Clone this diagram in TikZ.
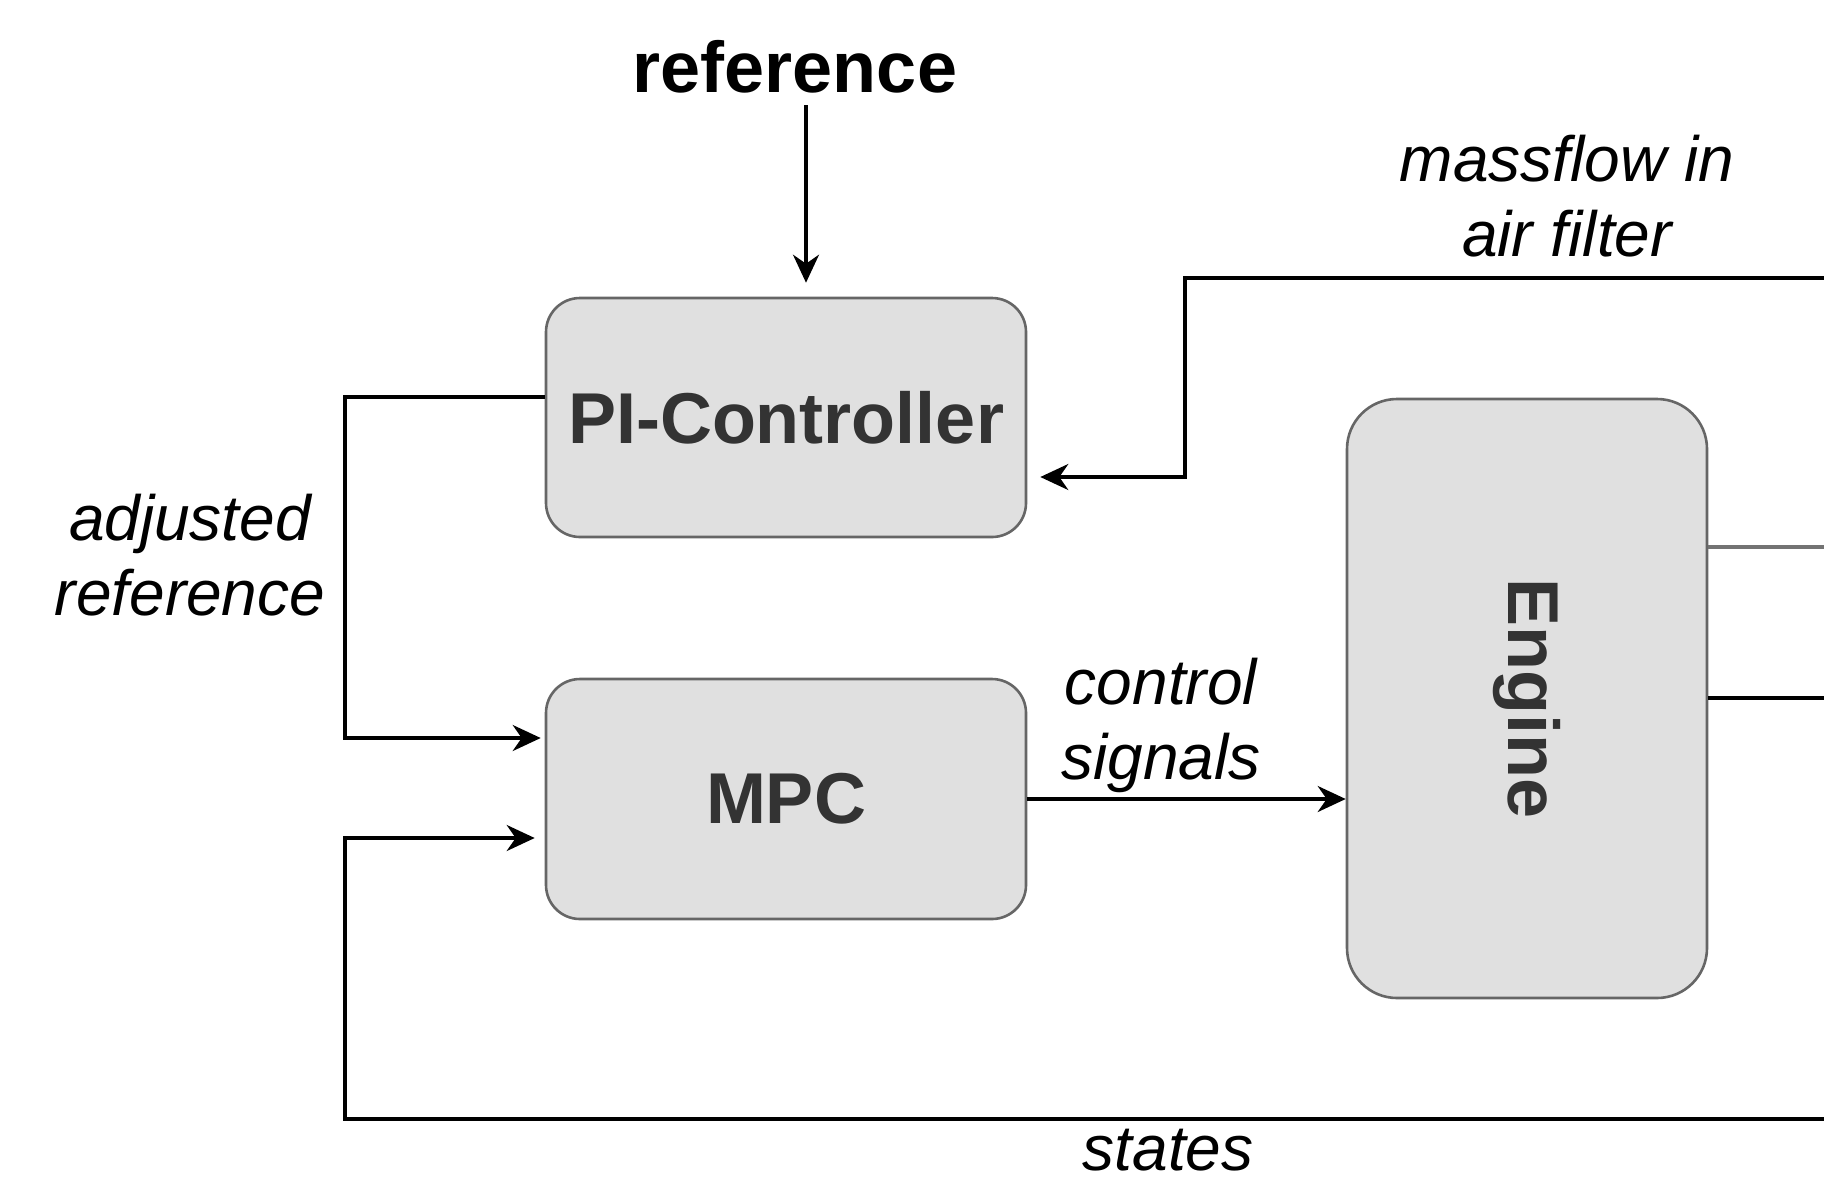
\documentclass[tikz,border=0pt]{standalone}
\usepackage{fontspec}
\setmainfont{Liberation Sans}
\usetikzlibrary{arrows.meta}
\definecolor{boxfill}{HTML}{E0E0E0}
\definecolor{boxline}{HTML}{666666}
\definecolor{boxtext}{HTML}{333333}
\begin{document}
\begin{tikzpicture}[x=0.5pt,y=-0.5pt,
  block/.style={draw=boxline, line width=1.3pt, fill=boxfill, rounded corners=17pt,
    text=boxtext, font=\fontsize{36}{43}\selectfont\bfseries, inner sep=0pt},
  lbl/.style={font=\fontsize{32}{37.5}\selectfont\itshape, align=center, inner sep=0pt},
  conn/.style={line width=1.7pt, draw=black},
  arr/.style={conn, -{Stealth[length=14pt,width=13pt,inset=4.5pt]}}]
\useasboundingbox (0,0) rectangle (1824,1184);
% blocks
\node[block, minimum width=240pt, minimum height=119.5pt] (pi) at (786,417.5) {PI-Controller};
\node[block, minimum width=240pt, minimum height=120pt] (mpc) at (786,799) {MPC};
\node[block, minimum width=180pt, minimum height=299.5pt, rounded corners=25pt] (eng) at (1527,698.5) {\rotatebox{-90}{Engine}};
% labels
\node[font=\fontsize{36}{43}\selectfont\bfseries, inner sep=0pt] (reflbl) at (795,67) {reference};
\node[lbl] (adj) at (190,555) {adjusted\\reference};
\node[lbl] (cs) at (1161,725) {control\\signals};
\node[lbl] (mf) at (1567,196) {massflow in\\air filter};
\node[font=\fontsize{32}{37.5}\selectfont\itshape, inner sep=0pt] (st) at (1168,1150) {states};
% coordinates
\coordinate (reftop) at (806,105);
\coordinate (adjC) at (345,397);
\coordinate (adjD) at (345,738);
\coordinate (mfR) at (1824,278);
\coordinate (mfC) at (1185,477);
\coordinate (stR) at (1824,1119);
\coordinate (stC) at (345,838);
\coordinate (o1) at (1824,547);
\coordinate (o2) at (1824,698);
% connectors
\draw[arr, shorten >=7pt] (reftop) -- (reftop |- pi.north);
\draw[arr, shorten >=2pt] (pi.west |- adjC) -- (adjC) -- (adjD) -- (adjD -| mpc.west);
\draw[arr] (mpc.east) -- (mpc.east -| eng.west);
\draw[arr, shorten >=6.5pt] (mfR) -| (mfC) -- (mfC -| pi.east);
\draw[arr, shorten >=5pt] (stR) -| (stC) -- (stC -| mpc.west);
\draw[conn, draw=black!55] (eng.east |- o1) -- (o1);
\draw[conn] (eng.east |- o2) -- (o2);
\end{tikzpicture}
\end{document}
